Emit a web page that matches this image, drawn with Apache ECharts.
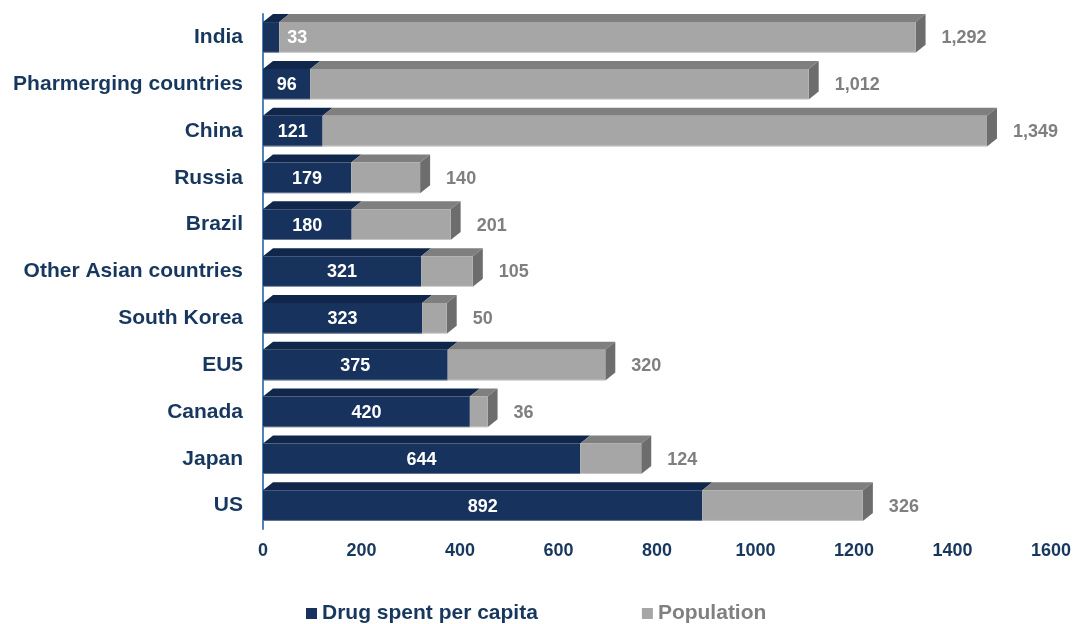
<!DOCTYPE html>
<html>
<head>
<meta charset="utf-8">
<style>
  html, body { margin: 0; padding: 0; background: #fff; }
  #chart { width: 1089px; height: 624px; }
</style>
<script src="https://cdn.jsdelivr.net/npm/echarts@6/dist/echarts.min.js"></script>
</head>
<body>
<div id="chart"></div>
<script>
// Countries / regions, top to bottom
const categories = ['India', 'Pharmerging countries', 'China', 'Russia', 'Brazil',
  'Other Asian countries', 'South Korea', 'EU5', 'Canada', 'Japan', 'US'];
// Drug spent per capita
const drugSpend = [33, 96, 121, 179, 180, 321, 323, 375, 420, 644, 892];
// Population (millions)
const population = [1292, 1012, 1349, 140, 201, 105, 50, 320, 36, 124, 326];
// Value axis ticks
const axisMin = 0, axisMax = 1600, axisStep = 200;

const NAVY = '#17325C', NAVY_TOP = '#10264A';
const GREY = '#A6A6A6', GREY_TOP = '#7F7F7F', GREY_SIDE = '#6D6D6D';
const FONT = '"Liberation Sans", Arial, sans-serif';
const DX = 10, DY = 8;   // depth of the 3D boxes in pixels
const NARROW = 36;       // front faces narrower than this get their label outside

const fmt = v => v.toLocaleString('en-US');

function drugLabel(i, x0, x1, yc) {
  const narrow = (x1 - x0) < NARROW;
  return {
    type: 'text',
    style: {
      text: fmt(drugSpend[i]), x: narrow ? x1 + 8 : (x0 + x1) / 2, y: yc + 1,
      align: narrow ? 'left' : 'center', verticalAlign: 'middle',
      fill: '#fff', font: 'bold 18px ' + FONT
    }
  };
}

function popLabel(i, x0, x1, yc) {
  return {
    type: 'text',
    style: {
      text: fmt(population[i]), x: x1 + DX + 16, y: yc + 1,
      align: 'left', verticalAlign: 'middle',
      fill: '#7F7F7F', font: 'bold 18px ' + FONT
    }
  };
}

// Draws one stacked segment as a 3D box: top face, optional right side face, front face
function makeBox(faceColor, topColor, sideColor, drawSide, labelFn) {
  return function (params, api) {
    const cat = api.value(0);
    const p0 = api.coord([api.value(1), cat]);
    const p1 = api.coord([api.value(2), cat]);
    const band = api.size([0, 1])[1];
    const h = band * 0.655;
    const x0 = p0[0], x1 = p1[0];
    const y0 = p0[1] - h / 2, y1 = p0[1] + h / 2;
    const children = [{
      type: 'polygon',
      shape: { points: [[x0, y0], [x1, y0], [x1 + DX, y0 - DY], [x0 + DX, y0 - DY]] },
      style: { fill: topColor }
    }];
    if (drawSide) {
      children.push({
        type: 'polygon',
        shape: { points: [[x1, y0], [x1 + DX, y0 - DY], [x1 + DX, y1 - DY], [x1, y1]] },
        style: { fill: sideColor }
      });
    }
    children.push({
      type: 'rect',
      shape: { x: x0, y: y0, width: x1 - x0, height: h },
      style: { fill: faceColor }
    }, {
      type: 'line',
      shape: { x1: x0, y1: y1 - 0.5, x2: x1, y2: y1 - 0.5 },
      style: { stroke: 'rgba(255,255,255,0.35)', lineWidth: 1 }
    });
    const lab = labelFn(params.dataIndex, x0, x1, p0[1]);
    if (lab) children.push(lab);
    return { type: 'group', children: children };
  };
}

const drugData = categories.map((c, i) => [c, 0, drugSpend[i]]);
const popData = categories.map((c, i) => [c, drugSpend[i], drugSpend[i] + population[i]]);

const option = {
  animation: false,
  backgroundColor: '#fff',
  grid: { left: 263, right: 38, top: 14, height: 515, containLabel: false },
  xAxis: {
    type: 'value', min: axisMin, max: axisMax, interval: axisStep,
    axisLine: { show: false }, axisTick: { show: false }, splitLine: { show: false },
    axisLabel: {
      color: '#17375E', fontFamily: FONT, fontWeight: 'bold', fontSize: 18, margin: 13,
      formatter: v => String(v)
    }
  },
  yAxis: {
    type: 'category', data: categories, inverse: true,
    axisLine: { show: true, lineStyle: { color: '#4F81BD', width: 2 } },
    axisTick: { show: false },
    axisLabel: {
      color: '#17375E', fontFamily: FONT, fontWeight: 'bold', fontSize: 21, margin: 20,
      padding: [3, 0, 0, 0]
    }
  },
  legend: {
    left: 306, top: 603, padding: 0, itemWidth: 11, itemHeight: 11, itemGap: 104,
    icon: 'rect',
    data: [
      { name: 'Drug spent per capita', textStyle: { color: '#17375E' } },
      { name: 'Population', textStyle: { color: '#808080' } }
    ],
    textStyle: { fontFamily: FONT, fontWeight: 'bold', fontSize: 21 }
  },
  series: [
    {
      name: 'Drug spent per capita', type: 'custom',
      itemStyle: { color: NAVY },
      encode: { y: 0, x: [1, 2] },
      data: drugData,
      renderItem: makeBox(NAVY, NAVY_TOP, NAVY, false, (i, x0, x1, yc) =>
        (x1 - x0) < NARROW ? null : drugLabel(i, x0, x1, yc))
    },
    {
      name: 'Population', type: 'custom',
      itemStyle: { color: GREY },
      encode: { y: 0, x: [1, 2] },
      data: popData,
      renderItem: makeBox(GREY, GREY_TOP, GREY_SIDE, true, popLabel)
    },
    {
      // narrow drug-spend labels, drawn last so they stay above the grey boxes
      name: 'drug-labels', type: 'custom',
      encode: { y: 0, x: [1, 2] },
      data: drugData,
      silent: true,
      renderItem: function (params, api) {
        const cat = api.value(0);
        const p0 = api.coord([api.value(1), cat]);
        const p1 = api.coord([api.value(2), cat]);
        if (p1[0] - p0[0] >= NARROW) return null;
        return drugLabel(params.dataIndex, p0[0], p1[0], p0[1]);
      }
    }
  ]
};

echarts.init(document.getElementById('chart'), null, { renderer: 'canvas' }).setOption(option);
</script>
</body>
</html>
